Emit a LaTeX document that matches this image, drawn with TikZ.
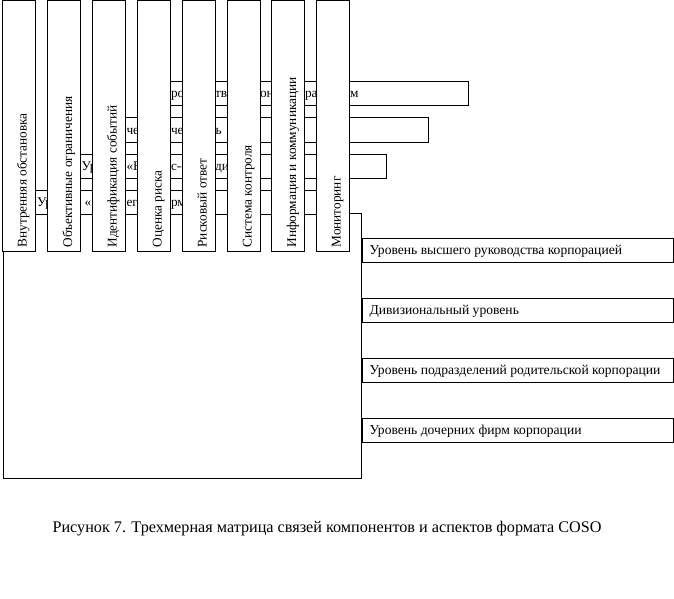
\documentclass[tikz,border=0pt]{standalone}
\usepackage{fontspec}
\setmainfont{Liberation Serif}
\begin{document}
\begin{tikzpicture}[x=1pt,y=-1pt,line width=1pt,
  box/.style={draw=black,fill=white},
  lbl/.style={inner sep=0pt,anchor=base west,font=\fontsize{13.3}{16}\selectfont},
  rlbl/.style={lbl,font=\fontsize{13.6}{16}\selectfont},
  vlbl/.style={lbl,rotate=90},
  captext/.style={inner sep=0pt,anchor=base west,font=\fontsize{16.2}{19}\selectfont}]
\useasboundingbox (0,0) rectangle (674,599);
\fill[white] (0,0) rectangle (674,599);
% large matrix frame
\draw[box] (3,213) rectangle (361,478);
% levels on the right
\draw[box] (362,238) rectangle (673,262);
\node[rlbl] (l1) at (369,254) {Уровень высшего руководства корпорацией};
\draw[box] (362,298) rectangle (673,322);
\node[rlbl] (l2) at (369,314) {Дивизиональный уровень};
\draw[box] (362,358) rectangle (673,382);
\node[rlbl] (l3) at (369,374) {Уровень подразделений родительской корпорации};
\draw[box] (362,418) rectangle (673,442);
\node[rlbl] (l4) at (369,434) {Уровень дочерних  фирм корпорации};
% objective bars (partly hidden)
\draw[box] (150,82) rectangle (468,106);
\node[lbl] (b1a) at (170.5,98) {рот};
\node[lbl] (b1b) at (214.5,98) {тви};
\node[lbl] (b1c) at (259.5,98) {он};
\node[lbl] (b1d) at (304.5,98) {ра};
\node[lbl] (b1e) at (349.5,98) {м};
\draw[box] (110,118) rectangle (428,142);
\node[lbl] (b2a) at (126,134) {че};
\node[lbl] (b2b) at (170.5,134) {че};
\node[lbl] (b2c) at (215,134) {ь};
\draw[box] (70,154) rectangle (386,178);
\node[lbl] (b3a) at (81,170) {Ур};
\node[lbl] (b3b) at (126,170) {«Б};
\node[lbl] (b3c) at (170.5,170) {с-о};
\node[lbl] (b3d) at (214.5,170) {ди};
\draw[box] (30,190) rectangle (346,214);
\node[lbl] (b4a) at (36.5,206) {Ур};
\node[lbl] (b4b) at (84,206) {«};
\node[lbl] (b4c) at (126,206) {ег};
\node[lbl] (b4d) at (170.5,206) {рм};
% component columns
\foreach \i/\xl/\t in {1/2/Внутренняя обстановка,2/47.5/Объективные ограничения,3/92/Идентификация событий,4/137/Оценка риска,5/182/Рисковый ответ,6/227/Система контроля,7/271.5/Информация и коммуникации,8/316/Мониторинг}{
  \draw[box] (\xl,0.5) rectangle ({\xl+33},251.5);
  \node[vlbl] (c\i) at ({\xl+24.5},248) {\t};
}
\node[captext] (caption) at (52,532) {Рисунок 7. Трехмерная матрица связей компонентов и аспектов формата COSO};
\end{tikzpicture}
\end{document}
